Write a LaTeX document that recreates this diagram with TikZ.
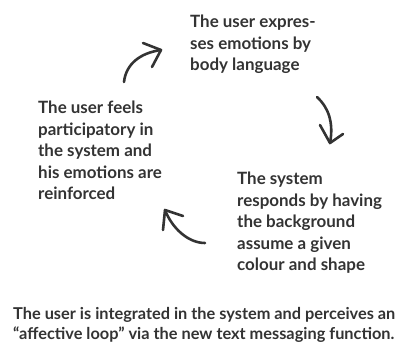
\documentclass[tikz,border=0pt]{standalone}
\usepackage{fontspec}
\setmainfont{Lato}
\definecolor{ink}{HTML}{333333}
\tikzset{
  txt/.style={anchor=north west, inner sep=0pt, align=left, text=ink,
    font=\bfseries\fontsize{17}{21.6}\selectfont},
  foot/.style={anchor=north west, inner sep=0pt, align=left, text=ink,
    font=\bfseries\fontsize{16.4}{20.5}\selectfont},
  loop/.style={draw=ink, line width=2.6pt, line cap=round, line join=round},
}
\begin{document}
\begin{tikzpicture}[x=1bp, y=-1bp]
\useasboundingbox (0,0) rectangle (401,350);
\node[txt] (expr) at (190,15) {The user expres-\\ses emotions by\\body language};
\node[txt] (resp) at (237,172) {The system\\responds by having\\the background\\assume a given\\colour and shape};
\node[txt] (feel) at (38,101) {The user feels\\participatory in\\the system and\\his emotions are\\reinforced};
\node[foot] (loopnote) at (13,307) {The user is integrated in the system and perceives an\\``affective loop'' via the new text messaging function.};
% arrow 1
\coordinate (t1) at (124,82); \coordinate (h1) at (161,50);
\coordinate (a1) at (143,43); \coordinate (b1) at (152,67);
\draw[loop] (t1) .. controls (126,64) and (140,53) .. (h1);
\draw[loop] (a1) -- (h1) -- (b1);
% arrow 2
\coordinate (t2) at (317,97); \coordinate (h2) at (330,143);
\coordinate (a2) at (320,125); \coordinate (b2) at (343,134);
\draw[loop] (t2) .. controls (328,107) and (334,122) .. (h2);
\draw[loop] (a2) -- (h2) -- (b2);
% arrow 3
\coordinate (t3) at (205,243); \coordinate (h3) at (165,210);
\coordinate (a3) at (183,216); \coordinate (b3) at (163,230);
\draw[loop] (t3) .. controls (188,243) and (172,228) .. (h3);
\draw[loop] (a3) -- (h3) -- (b3);
\end{tikzpicture}
\end{document}
